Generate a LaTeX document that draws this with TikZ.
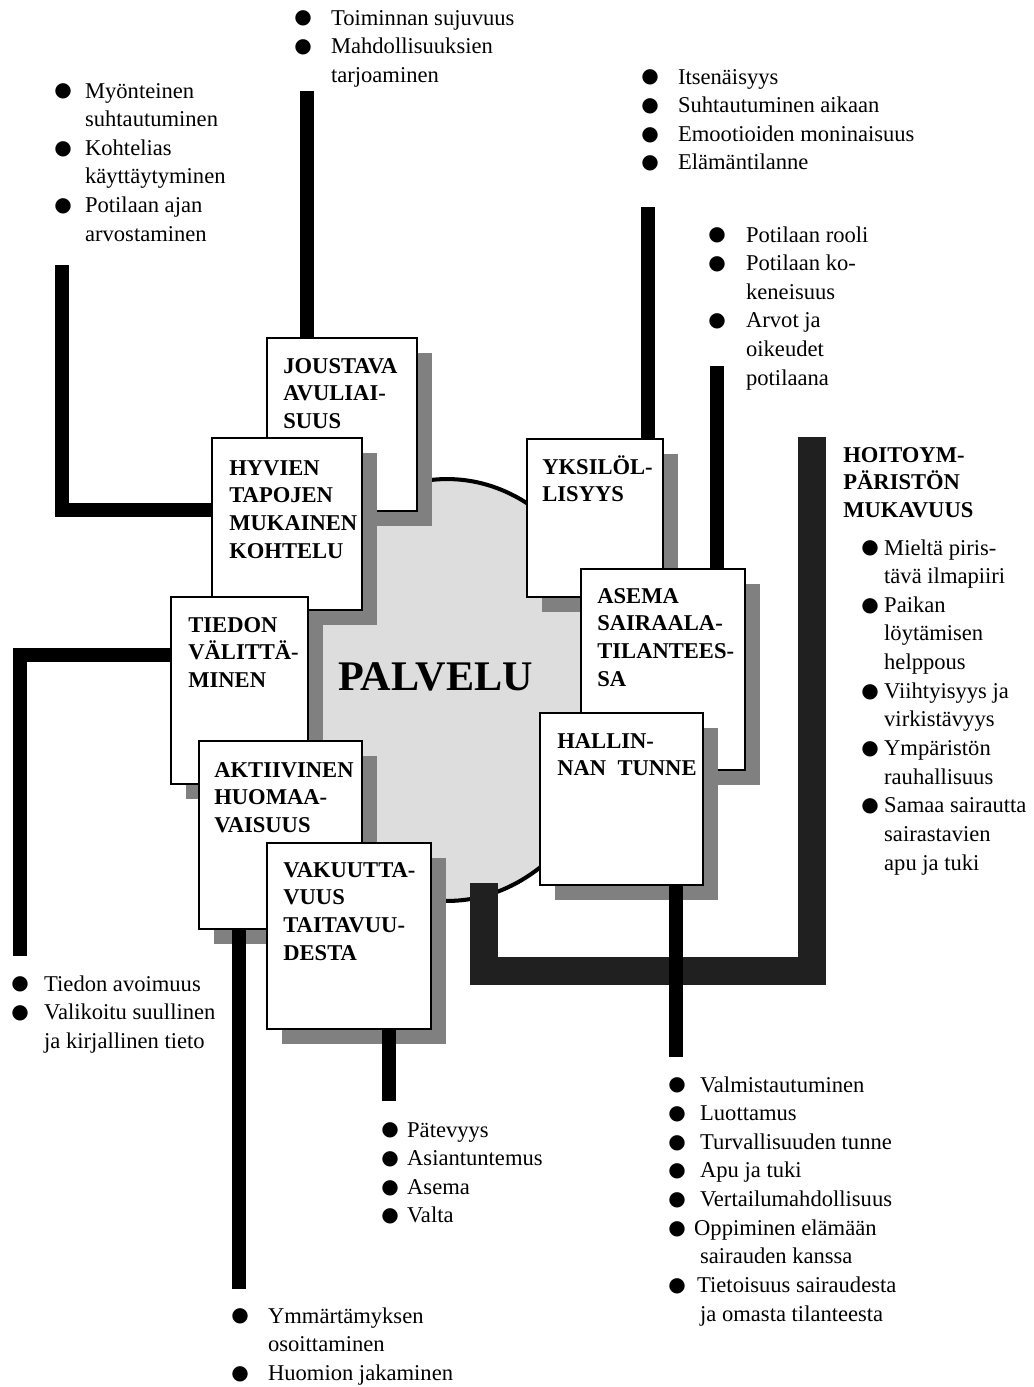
\documentclass[tikz,border=0pt]{standalone}
\usepackage{fontspec}
\setmainfont{Liberation Serif}
\newfontfamily\dotf{DejaVu Sans}
\usetikzlibrary{shapes.geometric,shadows}
\definecolor{shade}{HTML}{808080}
\definecolor{disc}{HTML}{DDDDDD}
\definecolor{ubar}{HTML}{202020}
\newcommand{\bul}{\raisebox{0.6pt}{\dotf\fontsize{11.4}{12}\selectfont ●}}
\newcommand{\blist}[2]{\begin{tabular}[t]{@{}p{#1}@{}l@{}}#2\end{tabular}}
\newcommand{\ttlines}[1]{\begin{tabular}[t]{@{}l@{}}#1\end{tabular}}

\begin{document}
\begin{tikzpicture}[x=0.02cm, y=-0.02cm,
    box/.style={draw, line width=1pt, fill=white, anchor=north west, inner sep=0pt,
      drop shadow={shadow xshift=0.3cm, shadow yshift=-0.3cm, opacity=1, fill=shade}},
    ttl/.style={anchor=base west, inner sep=0pt, font=\fontsize{12.85}{15.9}\selectfont\bfseries},
    lst/.style={anchor=base west, inner sep=0pt, font=\fontsize{12.85}{16.3}\selectfont},
    bar/.style={line width=7.5pt}]
    \useasboundingbox (0,0) rectangle (1034,1387);

    \node[ellipse, draw, line width=2.3pt, fill=disc, minimum width=6.88cm, minimum height=8.44cm, inner sep=0pt] at (447,690) (palvelu) {};
    \node[anchor=base west, inner sep=0pt, font=\fontsize{24}{24}\selectfont\bfseries] at (338,690) (paltxt) {PALVELU};

    \coordinate (u1) at (484,883);
    \coordinate (u2) at (484,971);
    \coordinate (u3) at (812,971);
    \coordinate (u4) at (812,437);
    \draw[line width=16pt, ubar] (u1) -- (u2) -- (u3) -- (u4);

    \node[box, minimum width=3cm, minimum height=3.46cm] at (266,337) (jou) {};
    \node[ttl] at (283,373) (joutxt) {\ttlines{JOUSTAVA\\AVULIAI-\\SUUS}};
    \node[box, minimum width=3cm, minimum height=3.44cm] at (211,437) (hyv) {};
    \node[ttl] at (229,475) (hyvtxt) {\ttlines{HYVIEN\\TAPOJEN\\MUKAINEN\\KOHTELU}};
    \node[box, minimum width=2.74cm, minimum height=3.74cm] at (170,596) (tie) {};
    \node[ttl] at (188,632) (tietxt) {\ttlines{TIEDON\\VÄLITTÄ-\\MINEN}};
    \node[box, minimum width=3.26cm, minimum height=3.76cm] at (198,740) (akt) {};
    \node[ttl] at (214,777) (akttxt) {\ttlines{AKTIIVINEN\\HUOMAA-\\VAISUUS}};
    \node[box, minimum width=3.28cm, minimum height=3.72cm] at (266,842) (vak) {};
    \node[ttl] at (283,877) (vaktxt) {\ttlines{VAKUUTTA-\\VUUS\\TAITAVUU-\\DESTA}};

    \node[box, minimum width=2.72cm, minimum height=3.16cm] at (526,438) (yks) {};
    \node[ttl] at (542,474) (ykstxt) {\ttlines{YKSILÖL-\\LISYYS}};
    \node[box, minimum width=3.28cm, minimum height=4.02cm] at (580,568) (ase) {};
    \node[ttl] at (597,603) (asetxt) {\ttlines{ASEMA\\SAIRAALA-\\TILANTEES-\\SA}};
    \node[box, minimum width=3.26cm, minimum height=3.44cm] at (539,712) (hal) {};
    \node[ttl] at (557,748) (haltxt) {\ttlines{HALLIN-\\NAN\ \ TUNNE}};

    \coordinate (a1) at (307,91);
    \draw[bar] (a1) -- (a1 |- jou.north);
    \coordinate (b1) at (62,265);
    \coordinate (b2) at (62,510);
    \draw[bar] (b1) -- (b2) -- (b2 -| hyv.west);
    \coordinate (c1) at (20,956);
    \coordinate (c2) at (20,655);
    \draw[bar] (c1) -- (c2) -- (c2 -| tie.west);
    \coordinate (d1) at (239,1289);
    \draw[bar] (d1 |- akt.south) -- (d1);
    \coordinate (e1) at (389,1101);
    \draw[bar] (e1 |- vak.south) -- (e1);
    \coordinate (f1) at (648,207);
    \draw[bar] (f1) -- (f1 |- yks.north);
    \coordinate (g1) at (717,366);
    \draw[bar] (g1) -- (g1 |- ase.north);
    \coordinate (h1) at (676,1057);
    \draw[bar] (h1 |- hal.south) -- (h1);

    \node[lst] at (294,25) (jouls) {\blist{20.9pt}{\bul & Toiminnan sujuvuus\\ \bul & Mahdollisuuksien\\ & tarjoaminen}};
    \node[lst] at (54,98) (hyvls) {\blist{17.5pt}{\bul & Myönteinen\\ & suhtautuminen\\ \bul & Kohtelias\\ & käyttäytyminen\\ \bul & Potilaan ajan\\ & arvostaminen}};
    \node[lst] at (641,84) (yksls) {\blist{20.9pt}{\bul & Itsenäisyys\\ \bul & Suhtautuminen aikaan\\ \bul & Emootioiden moninaisuus\\ \bul & Elämäntilanne}};
    \node[lst] at (708,242) (asels) {\blist{21.5pt}{\bul & Potilaan rooli\\ \bul & Potilaan ko-\\ & keneisuus\\ \bul & Arvot ja\\ & oikeudet\\ & potilaana}};
    \node[ttl] at (843,462) (hoitxt) {\ttlines{HOITOYM-\\PÄRISTÖN\\MUKAVUUS}};
    \node[lst] at (861,555) (hoils) {\blist{13pt}{\bul & Mieltä piris-\\ & tävä ilmapiiri\\ \bul & Paikan\\ & löytämisen\\ & helppous\\ \bul & Viihtyisyys ja\\ & virkistävyys\\ \bul & Ympäristön\\ & rauhallisuus\\ \bul & Samaa sairautta\\ & sairastavien\\ & apu ja tuki}};
    \node[lst] at (11,991) (tiels) {\blist{18.7pt}{\bul & Tiedon avoimuus\\ \bul & Valikoitu suullinen\\ & ja kirjallinen tieto}};
    \node[lst] at (231,1323) (aktls) {\blist{20.9pt}{\bul & Ymmärtämyksen\\ & osoittaminen\\ \bul & Huomion jakaminen}};
    \node[lst] at (381,1137) (vakls) {\blist{14.7pt}{\bul & Pätevyys\\ \bul & Asiantuntemus\\ \bul & Asema\\ \bul & Valta}};
    \node[lst] at (668,1092) (halls) {\blist{18.1pt}{\bul & Valmistautuminen\\ \bul & Luottamus\\ \bul & Turvallisuuden tunne\\ \bul & Apu ja tuki\\ \bul & Vertailumahdollisuus\\ \bul & \hspace*{-3.4pt}Oppiminen elämään\\ & sairauden kanssa\\ \bul & \hspace*{-1.7pt}Tietoisuus sairaudesta\\ & ja omasta tilanteesta}};
  \end{tikzpicture}
\end{document}
